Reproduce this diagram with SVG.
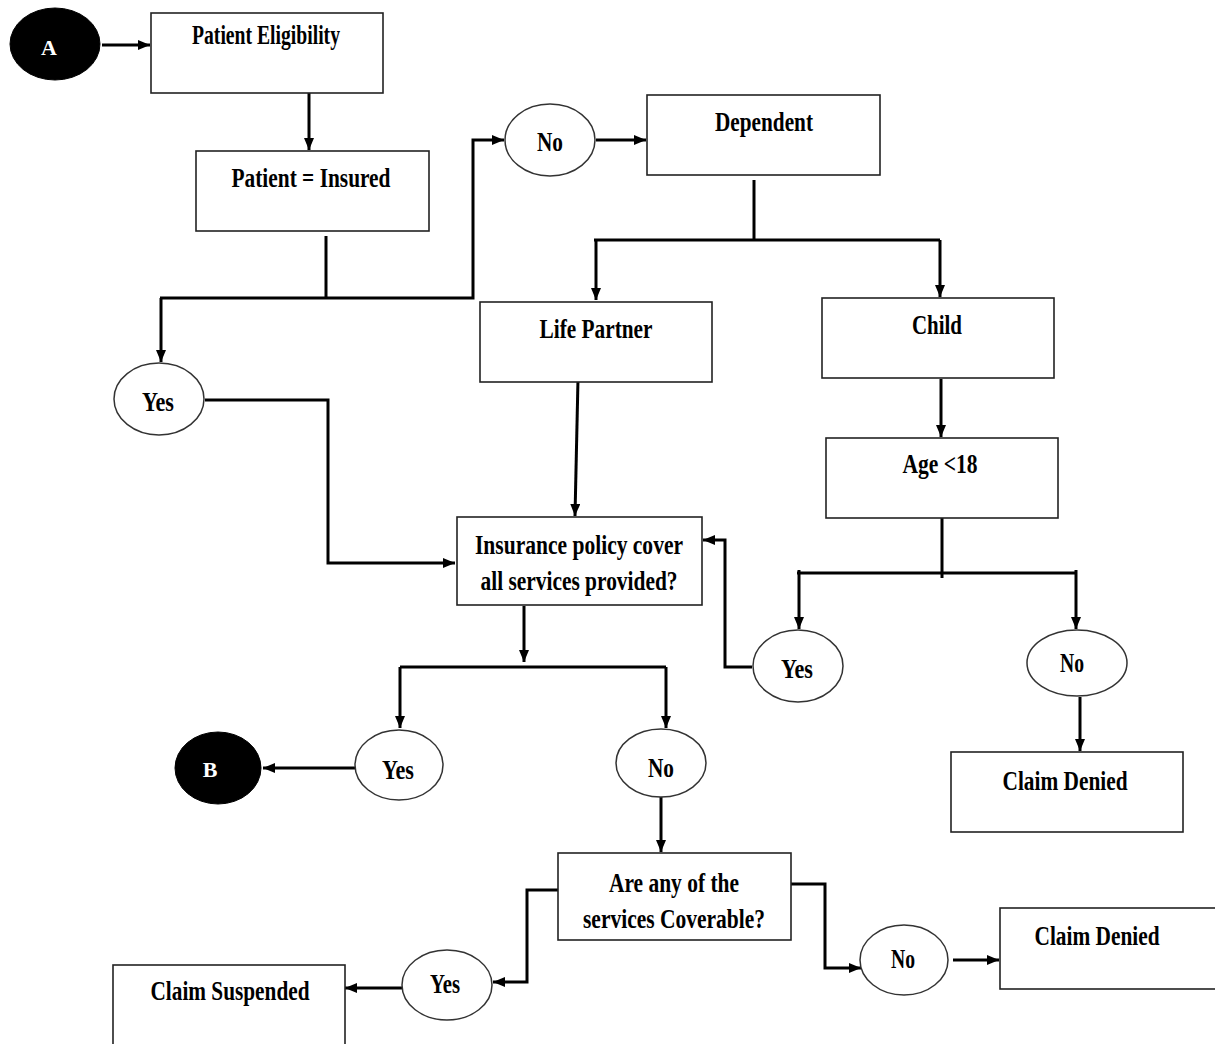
<svg xmlns="http://www.w3.org/2000/svg" width="1215" height="1044" viewBox="0 0 1215 1044">
  <style>
    .box { fill: #fff; stroke: #222; stroke-width: 1.6; }
    .oval { fill: #fff; stroke: #333; stroke-width: 1.5; }
    .term { fill: #000; stroke: #000; stroke-width: 1; }
    .lbl { font-family: "Liberation Serif", "Times New Roman", serif; font-weight: bold; font-size: 28px; fill: #000; text-anchor: middle; }
    .inv { fill: #fff; font-size: 22px; }
    .conn { fill: none; stroke: #000; stroke-width: 3; stroke-linejoin: miter; }
  </style>
  <defs>
    <marker id="arrow" viewBox="0 0 12 10" refX="12" refY="5" markerWidth="12" markerHeight="10" markerUnits="userSpaceOnUse" orient="auto">
      <path d="M0,0 L12,5 L0,10 z" fill="#000"/>
    </marker>
  </defs>

  <rect width="1215" height="1044" fill="#fff"/>

  <!-- connectors -->
  <g id="connectors">
    <line class="conn" x1="102" y1="45" x2="150" y2="45" marker-end="url(#arrow)"/>
    <line class="conn" x1="309" y1="93" x2="309" y2="150" marker-end="url(#arrow)"/>
    <polyline class="conn" points="326,236 326,298"/>
    <polyline class="conn" points="160,298 473,298 473,140 504,140" marker-end="url(#arrow)"/>
    <line class="conn" x1="161" y1="298" x2="161" y2="362" marker-end="url(#arrow)"/>
    <line class="conn" x1="596" y1="140" x2="646" y2="140" marker-end="url(#arrow)"/>
    <polyline class="conn" points="754,180 754,240"/>
    <polyline class="conn" points="594,240 940,240"/>
    <line class="conn" x1="596" y1="240" x2="596" y2="300" marker-end="url(#arrow)"/>
    <line class="conn" x1="940" y1="240" x2="940" y2="297" marker-end="url(#arrow)"/>
    <line class="conn" x1="941" y1="379" x2="941" y2="437" marker-end="url(#arrow)"/>
    <line class="conn" x1="578" y1="379" x2="575" y2="516" stroke-width="2" marker-end="url(#arrow)"/>
    <polyline class="conn" points="205,400 328,400 328,563 455,563" marker-end="url(#arrow)"/>
    <polyline class="conn" points="942,518 942,578"/>
    <polyline class="conn" points="797,573 1077,573"/>
    <line class="conn" x1="799" y1="570" x2="799" y2="629" marker-end="url(#arrow)"/>
    <line class="conn" x1="1076" y1="570" x2="1076" y2="629" marker-end="url(#arrow)"/>
    <polyline class="conn" points="752,667 725,667 725,540 703,540" marker-end="url(#arrow)"/>
    <line class="conn" x1="1080" y1="697" x2="1080" y2="751" marker-end="url(#arrow)"/>
    <line class="conn" x1="524" y1="606" x2="524" y2="662" marker-end="url(#arrow)"/>
    <polyline class="conn" points="400,667 666,667"/>
    <line class="conn" x1="400" y1="667" x2="400" y2="728" marker-end="url(#arrow)"/>
    <line class="conn" x1="666" y1="667" x2="666" y2="728" marker-end="url(#arrow)"/>
    <line class="conn" x1="355" y1="768" x2="263" y2="768" marker-end="url(#arrow)"/>
    <line class="conn" x1="661" y1="797" x2="661" y2="852" marker-end="url(#arrow)"/>
    <polyline class="conn" points="558,890 527,890 527,982 493,982" marker-end="url(#arrow)"/>
    <line class="conn" x1="403" y1="988" x2="345" y2="988" marker-end="url(#arrow)"/>
    <polyline class="conn" points="791,884 825,884 825,968 861,968" marker-end="url(#arrow)"/>
    <line class="conn" x1="953" y1="960" x2="999" y2="960" marker-end="url(#arrow)"/>
  </g>

  <!-- nodes -->
  <g id="start-a">
    <ellipse class="term" cx="55" cy="44" rx="45" ry="36"/>
    <text class="lbl inv" x="49" y="55">A</text>
  </g>
  <g id="patient-eligibility">
    <rect class="box" x="151" y="13" width="232" height="80"/>
    <text class="lbl" x="266" y="44" textLength="148" lengthAdjust="spacingAndGlyphs">Patient Eligibility</text>
  </g>
  <g id="patient-insured">
    <rect class="box" x="196" y="151" width="233" height="80"/>
    <text class="lbl" x="311" y="187" textLength="159" lengthAdjust="spacingAndGlyphs">Patient = Insured</text>
  </g>
  <g id="no-insured">
    <ellipse class="oval" cx="550" cy="140" rx="45" ry="36"/>
    <text class="lbl" x="550" y="151" textLength="26" lengthAdjust="spacingAndGlyphs">No</text>
  </g>
  <g id="dependent">
    <rect class="box" x="647" y="95" width="233" height="80"/>
    <text class="lbl" x="764" y="131" textLength="98" lengthAdjust="spacingAndGlyphs">Dependent</text>
  </g>
  <g id="life-partner">
    <rect class="box" x="480" y="302" width="232" height="80"/>
    <text class="lbl" x="596" y="338" textLength="113" lengthAdjust="spacingAndGlyphs">Life Partner</text>
  </g>
  <g id="child">
    <rect class="box" x="822" y="298" width="232" height="80"/>
    <text class="lbl" x="937" y="334" textLength="50" lengthAdjust="spacingAndGlyphs">Child</text>
  </g>
  <g id="yes-insured">
    <ellipse class="oval" cx="159" cy="399" rx="45" ry="36"/>
    <text class="lbl" x="158" y="411" textLength="32" lengthAdjust="spacingAndGlyphs">Yes</text>
  </g>
  <g id="age-check">
    <rect class="box" x="826" y="438" width="232" height="80"/>
    <text class="lbl" x="940" y="473" textLength="75" lengthAdjust="spacingAndGlyphs">Age &lt;18</text>
  </g>
  <g id="policy-cover">
    <rect class="box" x="457" y="517" width="245" height="88"/>
    <text class="lbl" x="579" y="554" textLength="208" lengthAdjust="spacingAndGlyphs">Insurance policy cover</text>
    <text class="lbl" x="579" y="590" textLength="197" lengthAdjust="spacingAndGlyphs">all services provided?</text>
  </g>
  <g id="yes-age">
    <ellipse class="oval" cx="798" cy="666" rx="45" ry="36"/>
    <text class="lbl" x="797" y="678" textLength="32" lengthAdjust="spacingAndGlyphs">Yes</text>
  </g>
  <g id="no-age">
    <ellipse class="oval" cx="1077" cy="663" rx="50" ry="33"/>
    <text class="lbl" x="1072" y="672" textLength="24" lengthAdjust="spacingAndGlyphs">No</text>
  </g>
  <g id="claim-denied-age">
    <rect class="box" x="951" y="752" width="232" height="80"/>
    <text class="lbl" x="1065" y="790" textLength="125" lengthAdjust="spacingAndGlyphs">Claim Denied</text>
  </g>
  <g id="end-b">
    <ellipse class="term" cx="218" cy="768" rx="43" ry="36"/>
    <text class="lbl inv" x="210" y="777">B</text>
  </g>
  <g id="yes-cover">
    <ellipse class="oval" cx="399" cy="765" rx="44" ry="35"/>
    <text class="lbl" x="398" y="779" textLength="32" lengthAdjust="spacingAndGlyphs">Yes</text>
  </g>
  <g id="no-cover">
    <ellipse class="oval" cx="661" cy="763" rx="45" ry="34"/>
    <text class="lbl" x="661" y="777" textLength="26" lengthAdjust="spacingAndGlyphs">No</text>
  </g>
  <g id="coverable">
    <rect class="box" x="558" y="853" width="233" height="87"/>
    <text class="lbl" x="674" y="892" textLength="130" lengthAdjust="spacingAndGlyphs">Are any of the</text>
    <text class="lbl" x="674" y="928" textLength="182" lengthAdjust="spacingAndGlyphs">services Coverable?</text>
  </g>
  <g id="yes-coverable">
    <ellipse class="oval" cx="447" cy="985" rx="45" ry="35"/>
    <text class="lbl" x="445" y="993" textLength="30" lengthAdjust="spacingAndGlyphs">Yes</text>
  </g>
  <g id="claim-suspended">
    <rect class="box" x="113" y="965" width="232" height="90"/>
    <text class="lbl" x="230" y="1000" textLength="159" lengthAdjust="spacingAndGlyphs">Claim Suspended</text>
  </g>
  <g id="no-coverable">
    <ellipse class="oval" cx="904" cy="960" rx="44" ry="35"/>
    <text class="lbl" x="903" y="968" textLength="24" lengthAdjust="spacingAndGlyphs">No</text>
  </g>
  <g id="claim-denied">
    <rect class="box" x="1000" y="908" width="225" height="81"/>
    <text class="lbl" x="1097" y="945" textLength="125" lengthAdjust="spacingAndGlyphs">Claim Denied</text>
  </g>
</svg>
